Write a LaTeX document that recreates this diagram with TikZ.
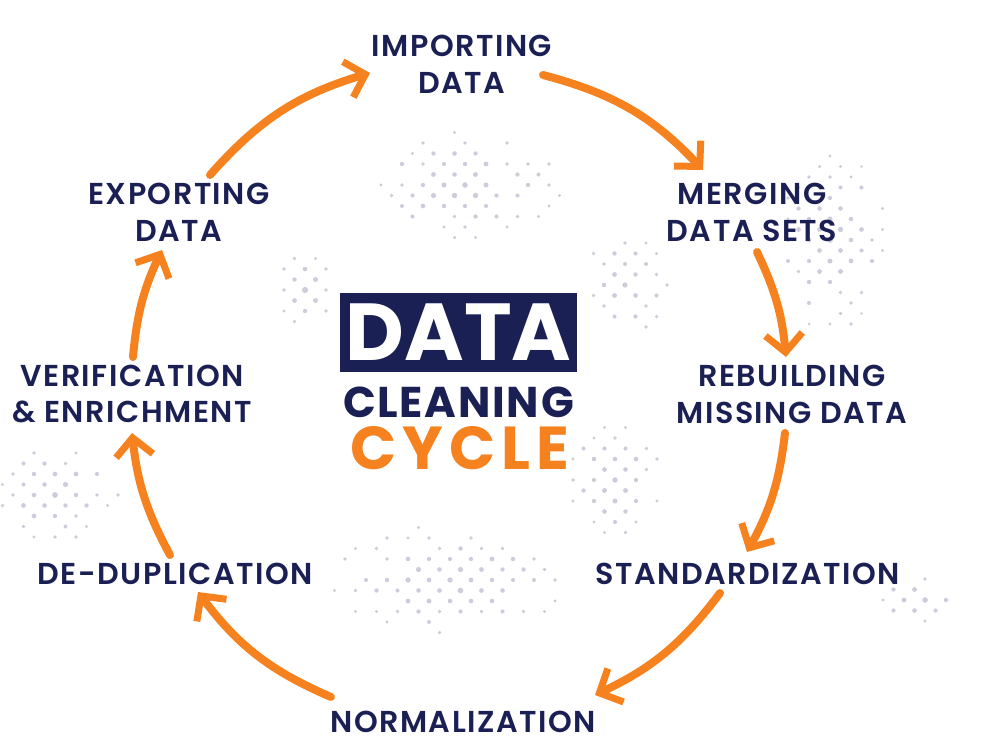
\documentclass[tikz,border=0pt]{standalone}
\usepackage{fontspec}
\setmainfont{Poppins}
\newfontfamily\stagefont{Poppins SemiBold}[LetterSpace=5]
\usetikzlibrary{arrows.meta}
\definecolor{navy}{RGB}{26,31,84}
\definecolor{cycleorange}{RGB}{246,130,31}
\definecolor{dotgray}{RGB}{203,205,218}
\tikzset{
  stage/.style={
    font=\stagefont\fontsize{17.2}{21}\selectfont,
    text=navy,
    align=center,
    inner sep=0pt
  },
  cycle arrow/.style={
    draw=cycleorange,
    line width=1.6mm,
    line cap=round,
    -{Straight Barb[length=3.6mm,width=7.4mm,line width=1.4mm]}
  },
  title box/.style={
    fill=navy,
    text=white,
    minimum width=4.74cm,
    minimum height=1.58cm,
    inner sep=0pt,
    font=\bfseries\fontsize{46}{46}\selectfont
  },
  title line/.style={inner sep=0pt,font=\bfseries}
}
% faint halftone patch, centre (#1,#2), radii #3 and #4 in px
\newcommand{\dotcloud}[4]{%
  \foreach \i in {-12,...,12}{%
    \foreach \j in {-12,...,12}{%
      \pgfmathtruncatemacro{\parity}{mod(\i+\j+24,2)}%
      \pgfmathsetmacro{\du}{10.5*\i/#3}%
      \pgfmathsetmacro{\dv}{10.5*\j/#4}%
      \pgfmathsetmacro{\dist}{sqrt(\du*\du+\dv*\dv)}%
      \pgfmathtruncatemacro{\keep}{((\parity==0)&&(\dist<1)&&(rnd>0.6*\dist*\dist)) ? 1 : 0}%
      \ifnum\keep=1
        \pgfmathsetmacro{\rad}{(3.1-1.3*\dist)*(0.8+0.2*rnd)}%
        \fill[dotgray] (#1+10.5*\i,#2+10.5*\j) circle[radius=\rad];
      \fi
    }%
  }%
}

\begin{document}
\begin{tikzpicture}[x=0.02cm,y=0.02cm]
  \useasboundingbox (0,0) rectangle (1000,-750);
  \pgfmathsetseed{42}

  % background dots
  \dotcloud{465}{-185}{100}{55}
  \dotcloud{625}{-285}{45}{50}
  \dotcloud{305}{-290}{30}{40}
  \dotcloud{830}{-240}{60}{90}
  \dotcloud{55}{-495}{65}{50}
  \dotcloud{450}{-580}{120}{55}
  \dotcloud{615}{-480}{50}{60}
  \dotcloud{925}{-600}{55}{25}

  % centre title
  \node[title box] (titlebox) at (458.5,-332.5) {DATA};
  \node[title line,text=navy,font=\bfseries\fontsize{24.5}{25}\selectfont\addfontfeatures{LetterSpace=4}]
    (cleaning) at (458.5,-402) {CLEANING};
  \node[title line,text=cycleorange,font=\bfseries\fontsize{34.5}{35}\selectfont\addfontfeatures{LetterSpace=10}]
    (cycle) at (460,-448) {CYCLE};

  % stages
  \foreach \name/\pos/\txt in {
      imp/{462,-64}/{IMPORTING\\DATA},
      mrg/{752,-212}/{MERGING\\DATA SETS},
      reb/{792,-394}/{REBUILDING\\MISSING DATA},
      std/{748,-574}/{STANDARDIZATION},
      nrm/{463,-722}/{NORMALIZATION},
      ded/{175,-574}/{DE-DUPLICATION},
      ver/{132,-394}/{VERIFICATION\\\& ENRICHMENT},
      exp/{179,-212}/{EXPORTING\\DATA}} {
    \node[stage] (\name) at (\pos) {\txt};
  }

  % arrow ends
  \coordinate (a1s) at (543,-75);  \coordinate (a1e) at (703,-170);
  \coordinate (a2s) at (757,-252); \coordinate (a2e) at (786,-357);
  \coordinate (a3s) at (785,-433); \coordinate (a3e) at (747,-552);
  \coordinate (a4s) at (720,-593); \coordinate (a4e) at (595,-695);
  \coordinate (a5s) at (331,-697); \coordinate (a5e) at (198,-592);
  \coordinate (a6s) at (170,-555); \coordinate (a6e) at (132,-433);
  \coordinate (a7s) at (133,-357); \coordinate (a7e) at (162,-250);
  \coordinate (a8s) at (210,-175); \coordinate (a8e) at (370,-73);

  \foreach \s/\e/\b in {a1s/a1e/16,a2s/a2e/10,a3s/a3e/11,a4s/a4e/14,
                        a5s/a5e/15,a6s/a6e/11,a7s/a7e/10,a8s/a8e/16} {
    \draw[cycle arrow] (\s) to[bend left=\b] (\e);
  }
\end{tikzpicture}
\end{document}
